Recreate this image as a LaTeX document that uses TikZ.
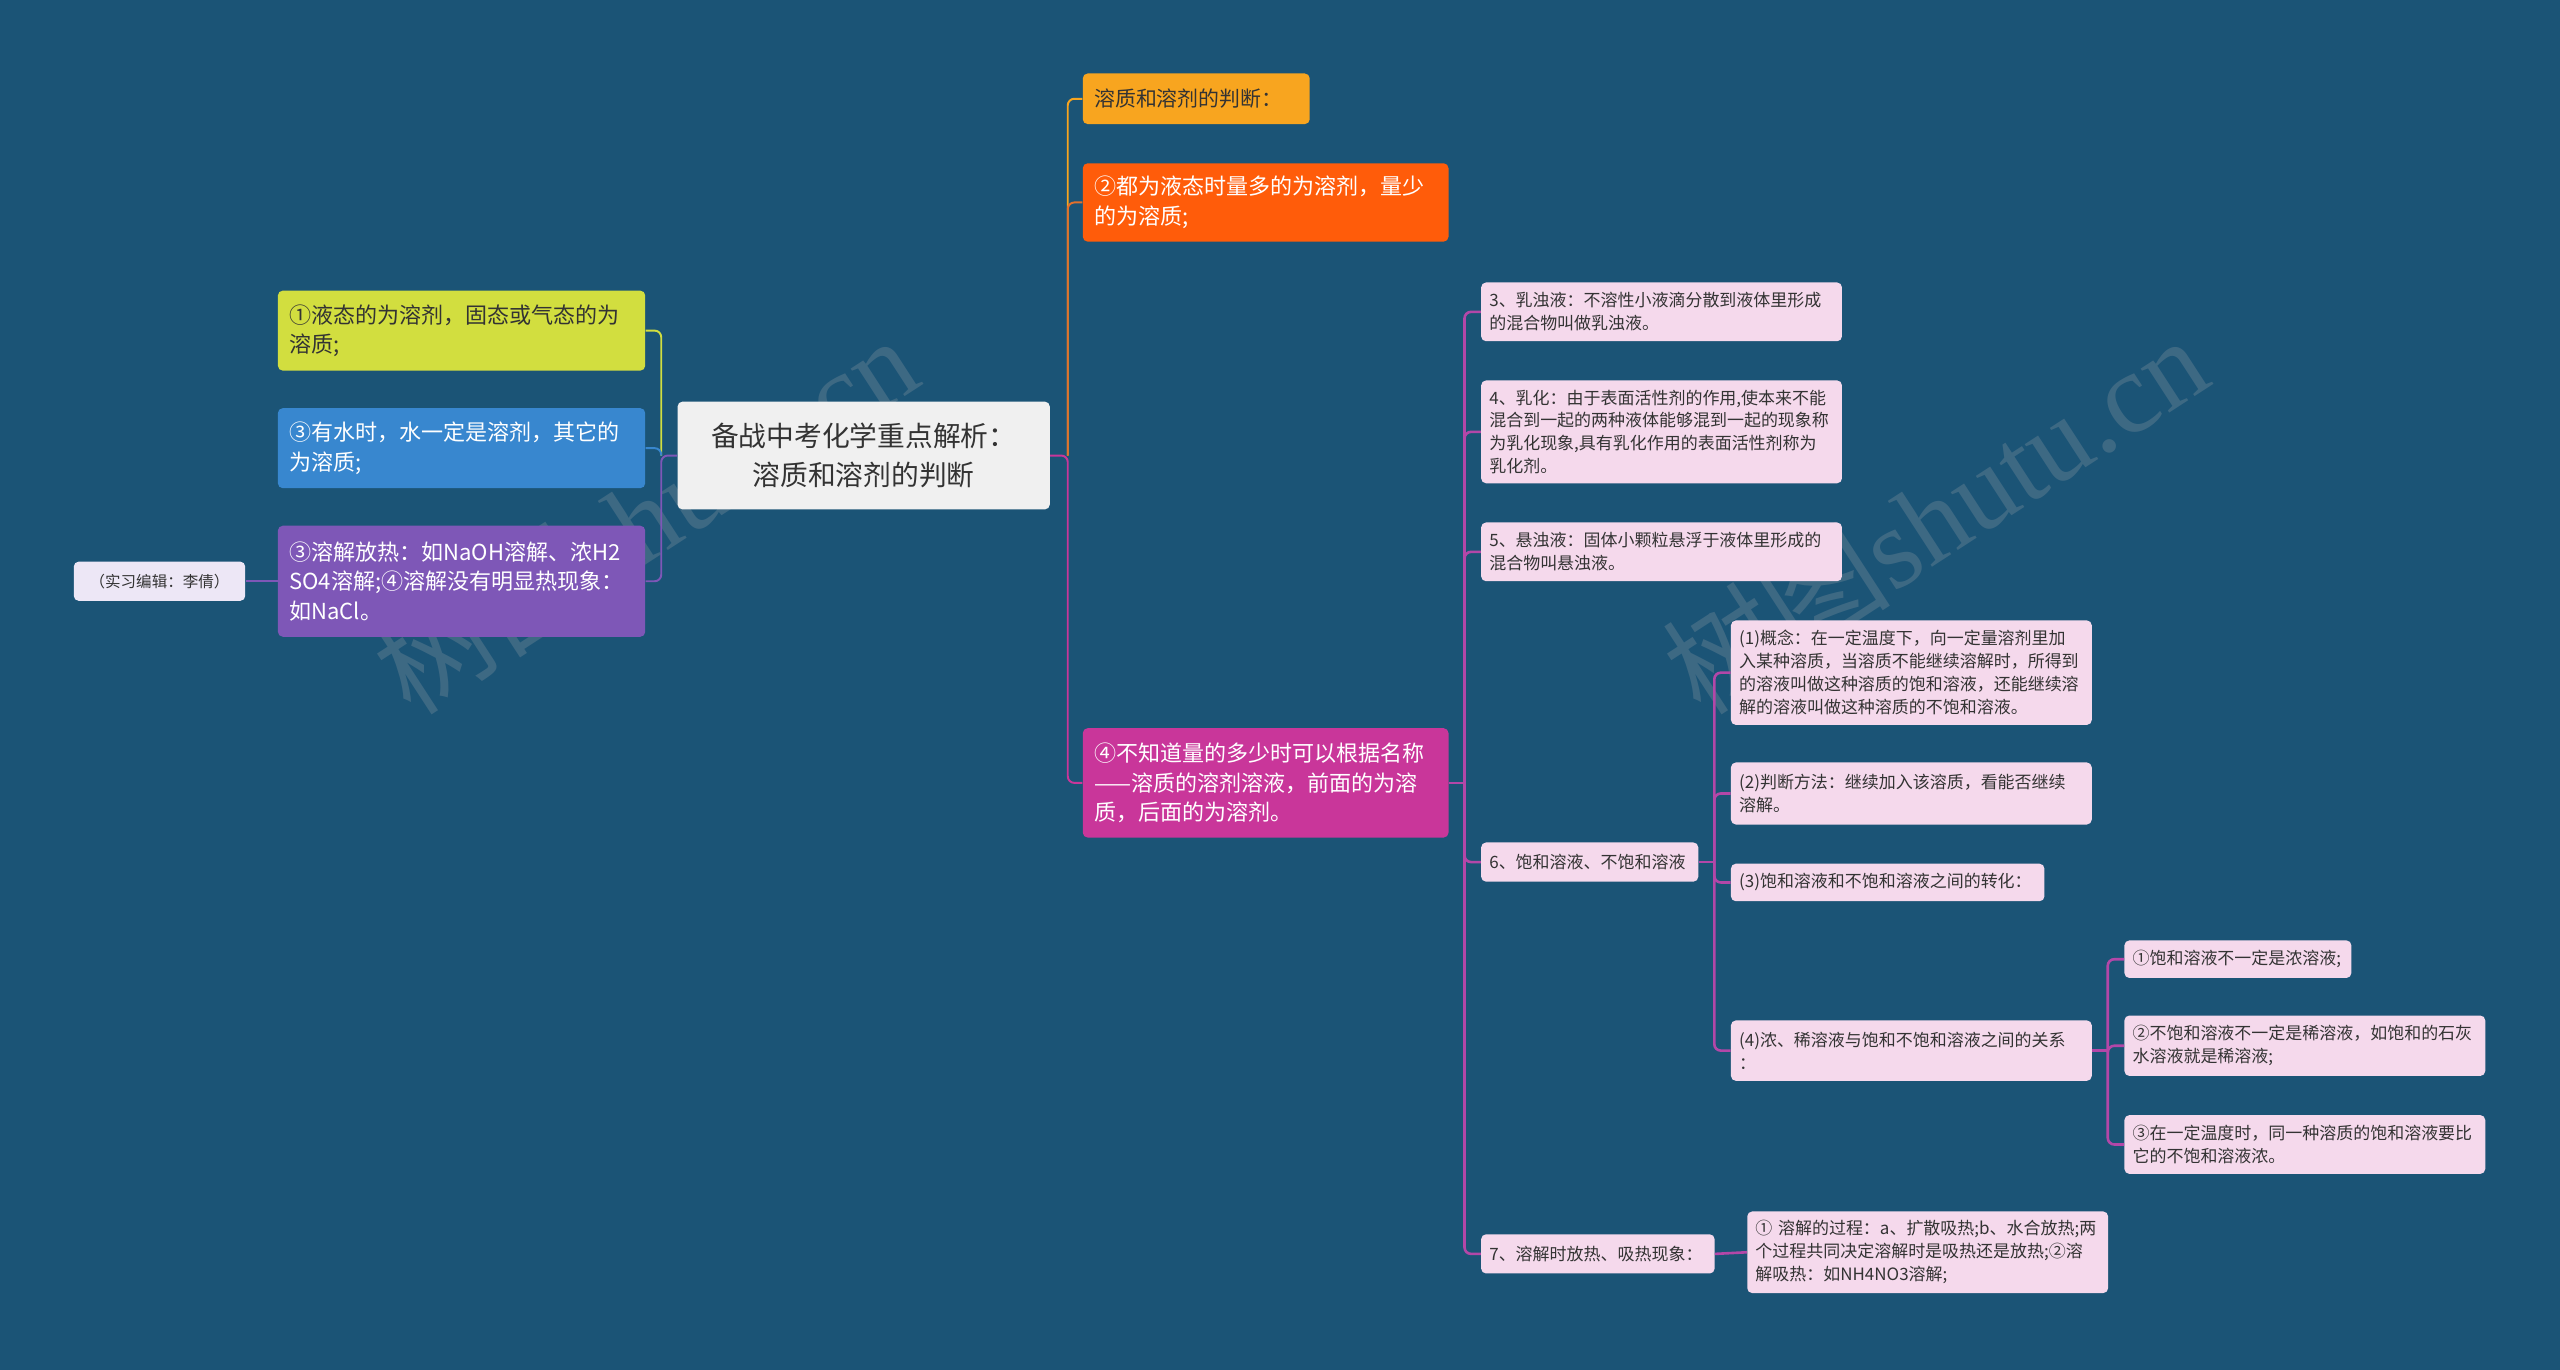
\documentclass[tikz,border=0pt]{standalone}
\usepackage{fontspec}
\setmainfont{Noto Sans CJK SC}
\newfontfamily\wmfont{Liberation Serif}
\usetikzlibrary{positioning}
\definecolor{bgblue}{RGB}{27,84,118}
\definecolor{rootgray}{RGB}{240,240,240}
\definecolor{txtdark}{RGB}{51,51,51}
\definecolor{cyel}{RGB}{210,222,63}
\definecolor{cblu}{RGB}{56,135,207}
\definecolor{cpur}{RGB}{126,87,183}
\definecolor{editlav}{RGB}{237,231,246}
\definecolor{camb}{RGB}{248,165,31}
\definecolor{corg}{RGB}{255,92,10}
\definecolor{corgline}{RGB}{226,112,44}
\definecolor{cmag}{RGB}{201,54,154}
\definecolor{leafpink}{RGB}{245,217,236}
\definecolor{clink}{RGB}{179,71,168}
\definecolor{wmgray}{RGB}{150,160,168}

\begin{document}
\begin{tikzpicture}[x=1pt,y=-1pt,
box/.style={anchor=west,rounded corners=3pt,inner xsep=7pt,inner ysep=3pt,align=left,font=\fontsize{13.5}{18}\selectfont},
leaf/.style={box,fill=leafpink,text=txtdark,inner xsep=5pt,font=\fontsize{10.4}{14}\selectfont},
root/.style={rounded corners=3pt,fill=rootgray,text=txtdark,minimum width=228pt,minimum height=66pt,align=center,font=\fontsize{17}{24}\selectfont},
wire/.style={line width=1.2pt,rounded corners=4pt},
wireb/.style={line width=1.6pt,rounded corners=4pt,clink},
wmark/.style={rotate=33,text=wmgray,opacity=0.28,font=\fontsize{70}{70}\selectfont}]
\fill[bgblue] (0,0) rectangle (1568,839);
\useasboundingbox (0,0) rectangle (1568,839);
\node[wmark] (wm1) at (395,315) {树图\wmfont shutu.cn};
\node[wmark] (wm2) at (1185,315) {树图\wmfont shutu.cn};
\node[root] (root) at (529,279) {备战中考化学重点解析：\\溶质和溶剂的判断};
\node[box,fill=cyel,text=txtdark,text width=211pt,minimum height=49pt] (yel) at (170,202.5) {①液态的为溶剂，固态或气态的为\\溶质;};
\node[box,fill=cblu,text=white,text width=211pt,minimum height=49pt] (blu) at (170,274.5) {③有水时，水一定是溶剂，其它的\\为溶质;};
\node[box,fill=cpur,text=white,text width=211pt,minimum height=68pt] (pur) at (170,356) {③溶解放热：如NaOH溶解、浓H2\\SO4溶解;④溶解没有明显热现象：\\如NaCl。};
\node[box,fill=editlav,text=txtdark,inner xsep=5pt,text width=95pt,minimum height=24pt,align=center,font=\fontsize{9.5}{12}\selectfont] (edit) at (45,356) {（实习编辑：李倩）};
\node[box,fill=camb,text=txtdark,text width=125pt,minimum height=31pt,font=\fontsize{12.8}{16}\selectfont] (amb) at (663,60.5) {溶质和溶剂的判断：};
\node[box,fill=corg,text=white,text width=210pt,minimum height=48pt] (org) at (663,124) {②都为液态时量多的为溶剂，量少\\的为溶质;};
\node[box,fill=cmag,text=white,text width=210pt,minimum height=67pt] (mag) at (663,479.5) {④不知道量的多少时可以根据名称\\——溶质的溶剂溶液，前面的为溶\\质，后面的为溶剂。};
\node[leaf,text width=211pt,minimum height=36pt] (n3) at (907,191) {3、乳浊液：不溶性小液滴分散到液体里形成\\的混合物叫做乳浊液。};
\node[leaf,text width=211pt,minimum height=63pt] (n4) at (907,264.5) {4、乳化：由于表面活性剂的作用,使本来不能\\混合到一起的两种液体能够混到一起的现象称\\为乳化现象,具有乳化作用的表面活性剂称为\\乳化剂。};
\node[leaf,text width=211pt,minimum height=36pt] (n5) at (907,338) {5、悬浊液：固体小颗粒悬浮于液体里形成的\\混合物叫悬浊液。};
\node[leaf,text width=123pt,minimum height=24pt] (n6) at (907,528) {6、饱和溶液、不饱和溶液};
\node[leaf,text width=133pt,minimum height=24pt] (n7) at (907,768) {7、溶解时放热、吸热现象：};
\node[leaf,text width=211pt,minimum height=64pt] (c1) at (1060,412) {(1)概念：在一定温度下，向一定量溶剂里加\\入某种溶质，当溶质不能继续溶解时，所得到\\的溶液叫做这种溶质的饱和溶液，还能继续溶\\解的溶液叫做这种溶质的不饱和溶液。};
\node[leaf,text width=211pt,minimum height=38pt] (c2) at (1060,486) {(2)判断方法：继续加入该溶质，看能否继续\\溶解。};
\node[leaf,text width=182pt,minimum height=23pt] (c3) at (1060,540.5) {(3)饱和溶液和不饱和溶液之间的转化：};
\node[leaf,text width=211pt,minimum height=37pt] (c4) at (1060,643.5) {(4)浓、稀溶液与饱和不饱和溶液之间的关系\\：};
\node[leaf,text width=211pt,minimum height=50pt] (d1) at (1070,767) {① 溶解的过程：a、扩散吸热;b、水合放热;两\\个过程共同决定溶解时是吸热还是放热;②溶\\解吸热：如NH4NO3溶解;};
\node[leaf,text width=129pt,minimum height=23pt] (e1) at (1301,587.5) {①饱和溶液不一定是浓溶液;};
\node[leaf,text width=211pt,minimum height=37pt] (e2) at (1301,640.5) {②不饱和溶液不一定是稀溶液，如饱和的石灰\\水溶液就是稀溶液;};
\node[leaf,text width=211pt,minimum height=36pt] (e3) at (1301,701) {③在一定温度时，同一种溶质的饱和溶液要比\\它的不饱和溶液浓。};
\coordinate (jL) at (405,279);
\coordinate (jR) at (654,279);
\coordinate (jM) at (897,479.5);
\coordinate (j6) at (1050,528);
\coordinate (j4) at (1291,643.5);
\draw[wire,cyel] (jL) |- (yel.east);
\draw[wire,cblu] (jL) |- (blu.east);
\draw[wire,cpur] (root.west) -- (jL) |- (pur.east);
\draw[wire,cpur] (pur.west) -- (edit.east);
\draw[wire,cmag] (root.east) -- (jR) |- (mag.west);
\draw[wire,camb] (jR) |- (amb.west);
\draw[wire,corgline] (jR) |- (org.west);
\draw[wireb] (mag.east) -- (jM);
\foreach \n in {n3,n4,n5,n6,n7} \draw[wireb] (jM) |- (\n.west);
\draw[wireb] (n6.east) -- (j6);
\foreach \n in {c1,c2,c3,c4} \draw[wireb] (j6) |- (\n.west);
\draw[wireb] (n7.east) -- (d1.west);
\draw[wireb] (c4.east) -- (j4);
\foreach \n in {e1,e2,e3} \draw[wireb] (j4) |- (\n.west);
\end{tikzpicture}
\end{document}
